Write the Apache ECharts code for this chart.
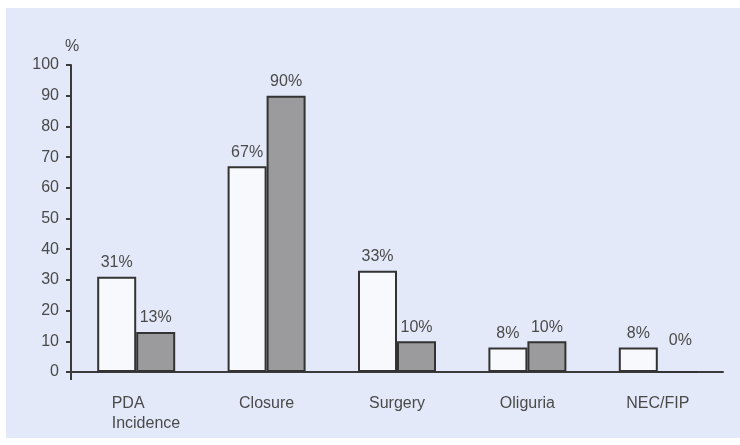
<!DOCTYPE html>
<html>
<head>
<meta charset="utf-8">
<script src="https://cdn.jsdelivr.net/npm/echarts@6/dist/echarts.min.js"></script>
<style>
  html, body { margin: 0; padding: 0; background: #ffffff; }
  #chart { width: 740px; height: 445px; }
</style>
</head>
<body>
<div id="chart"></div>
<script>
// Outcome categories and percentages for the two groups
const categories = ['PDA\nIncidence', 'Closure', 'Surgery', 'Oliguria', 'NEC/FIP'];
const groupOpen = [31, 67, 33, 8, 8];
const groupFilled = [13, 90, 10, 10, 0];
const yTicks = [0, 10, 20, 30, 40, 50, 60, 70, 80, 90, 100];

const FONT = '"Liberation Sans", Arial, sans-serif';
const TEXT = '#4a4a4a';
const AXIS = '#3a3a3a';

const chart = echarts.init(document.getElementById('chart'), null, { renderer: 'canvas' });

const labelStyle = {
  show: true,
  position: 'top',
  distance: 6,
  formatter: '{c}%',
  fontFamily: FONT,
  fontSize: 16,
  color: TEXT
};

const backdrop = {
  type: 'rect',
  id: 'backdrop',
  left: 6, top: 8,
  shape: { width: 734, height: 430 },
  style: { fill: '#e3e9f8' },
  z: -10
};

chart.setOption({
  animation: false,
  backgroundColor: '#ffffff',
  graphic: [backdrop],
  grid: { left: 71, right: 17, top: 65, bottom: 73 },
  xAxis: {
    type: 'category',
    data: categories,
    axisLine: { show: true, lineStyle: { color: AXIS, width: 2 } },
    axisTick: { show: false },
    axisLabel: {
      interval: 0,
      margin: 22,
      fontFamily: FONT,
      fontSize: 16,
      lineHeight: 20,
      color: TEXT,
      formatter: function (value, index) {
        if (index === 0) {
          return value.split('\n').map(function (s) { return '{l|' + s + '}'; }).join('\n');
        }
        return value;
      },
      rich: {
        l: {
          width: 68,
          align: 'left',
          padding: [0, 0, 0, 19],
          fontFamily: FONT,
          fontSize: 16,
          lineHeight: 20,
          color: TEXT
        }
      }
    }
  },
  yAxis: {
    type: 'value',
    min: yTicks[0],
    max: yTicks[yTicks.length - 1],
    interval: 10,
    name: '%',
    nameLocation: 'end',
    nameGap: 10,
    nameTextStyle: { fontFamily: FONT, fontSize: 16, color: TEXT, align: 'center', padding: [0, 0, 0, 2] },
    axisLine: { show: true, lineStyle: { color: AXIS, width: 2 } },
    axisTick: { show: true, length: 5, lineStyle: { color: AXIS, width: 2 } },
    axisLabel: { margin: 12, fontFamily: FONT, fontSize: 16, color: TEXT },
    splitLine: { show: false }
  },
  series: [
    {
      type: 'bar',
      data: groupOpen,
      barWidth: 39,
      barGap: '0%',
      itemStyle: { color: '#f8f9fd', borderColor: '#333333', borderWidth: 2 },
      label: labelStyle
    },
    {
      type: 'bar',
      data: groupFilled.map(function (v) {
        return v === 0 ? { value: v, label: { offset: [3, -16] } } : v;
      }),
      barWidth: 39,
      itemStyle: { color: '#9b9b9d', borderColor: '#333333', borderWidth: 2 },
      label: labelStyle
    }
  ]
});

// The vertical axis runs a little past the origin: add that short stub
// at the origin found through the axes' own scales.
const c0 = chart.convertToPixel({ xAxisIndex: 0 }, 0);
const c1 = chart.convertToPixel({ xAxisIndex: 0 }, 1);
const originX = c0 - (c1 - c0) / 2;
const originY = chart.convertToPixel({ yAxisIndex: 0 }, 0);
chart.setOption({
  graphic: [backdrop, {
    type: 'line',
    id: 'originStub',
    shape: { x1: originX, y1: originY, x2: originX, y2: originY + 8 },
    style: { stroke: AXIS, lineWidth: 2 },
    z: 10
  }]
});
</script>
</body>
</html>
